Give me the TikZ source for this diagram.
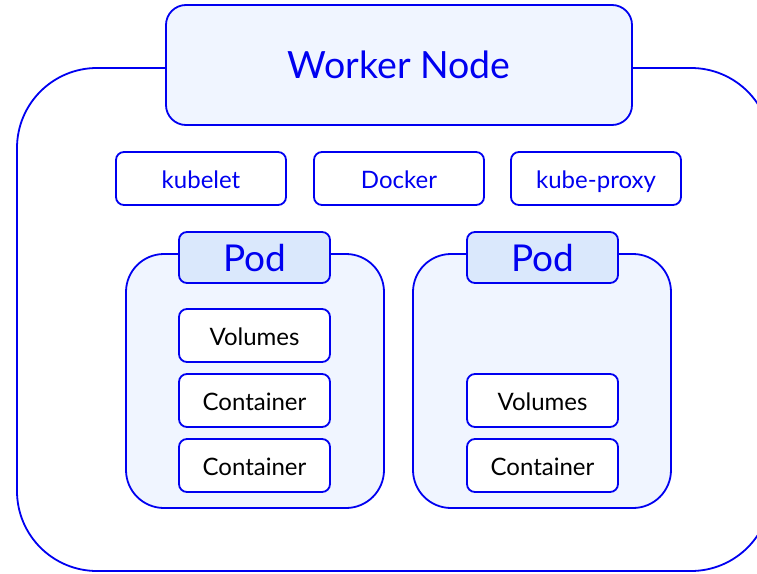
\documentclass[tikz,border=0pt]{standalone}
\usepackage{fontspec}
\setmainfont{Lato}
\definecolor{edge}{HTML}{0000F0}
\definecolor{panel}{HTML}{F0F5FF}
\definecolor{tab}{HTML}{DAE8FC}
\begin{document}
\begin{tikzpicture}[x=1pt,y=-1pt,
  frame/.style={draw=edge,line width=1.8pt},
  title/.style={frame,fill=panel,rounded corners=20pt,text=edge,font=\fontsize{37.5}{40}\selectfont},
  agent/.style={frame,fill=white,rounded corners=8pt,text=edge,text height=21pt,text depth=1pt,font=\fontsize{24}{26}\selectfont},
  podbox/.style={frame,fill=panel,rounded corners=38pt},
  podtab/.style={frame,fill=tab,rounded corners=8pt,text=edge,font=\fontsize{37}{40}\selectfont},
  part/.style={frame,fill=white,rounded corners=8pt,text=black,text height=21pt,text depth=1pt,font=\fontsize{24}{26}\selectfont}]
\useasboundingbox (0,0) rectangle (757,573);
\clip (0,0) rectangle (757,573);
% node outline, its right side runs past the edge
\draw[frame,rounded corners=80pt] (17,68) rectangle (771,571);
\node[title,minimum width=466pt,minimum height=120pt] (worker) at (399,65) {Worker Node};
% node agents
\node[agent,minimum width=170pt,minimum height=53pt] (kubelet) at (201,178.5) {kubelet};
\node[agent,minimum width=170pt,minimum height=53pt] (docker) at (399,178.5) {Docker};
\node[agent,minimum width=170pt,minimum height=53pt] (proxy) at (596,178.5) {kube-proxy};
% first pod
\node[podbox,minimum width=258pt,minimum height=254pt] (podA) at (255,381) {};
\node[podtab,minimum width=151pt,minimum height=51pt] (tabA) at (254.5,257.5) {Pod};
\node[part,minimum width=151pt,minimum height=53pt] (volA) at (254.5,335.5) {Volumes};
\node[part,minimum width=151pt,minimum height=53pt] (ctrA1) at (254.5,400.5) {Container};
\node[part,minimum width=151pt,minimum height=53pt] (ctrA2) at (254.5,465.5) {Container};
% second pod
\node[podbox,minimum width=258pt,minimum height=254pt] (podB) at (542,381) {};
\node[podtab,minimum width=151pt,minimum height=51pt] (tabB) at (542.5,257.5) {Pod};
\node[part,minimum width=151pt,minimum height=53pt] (volB) at (542.5,400.5) {Volumes};
\node[part,minimum width=151pt,minimum height=53pt] (ctrB) at (542.5,465.5) {Container};
\end{tikzpicture}
\end{document}
